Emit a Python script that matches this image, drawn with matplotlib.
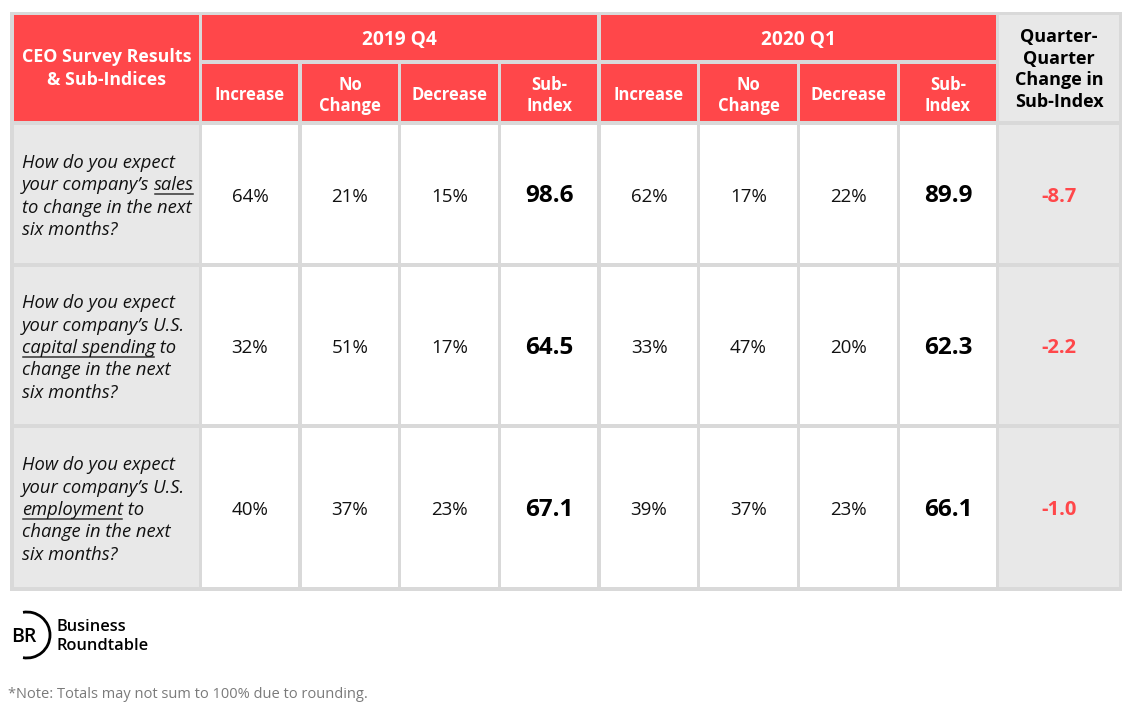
import matplotlib.pyplot as plt
from matplotlib.patches import Rectangle, Arc

plt.rcParams['font.family'] = ['Open Sans', 'DejaVu Sans']

# ---- data ----
title_cell = "CEO Survey Results\n& Sub-Indices"
quarters = ["2019 Q4", "2020 Q1"]
sub_headers = ["Increase", "No\nChange", "Decrease", "Sub-\nIndex"]
change_header = "Quarter-\nQuarter\nChange in\nSub-Index"

# each question: list of lines, each line a list of (text, underlined)
questions = [
    [[("How do you expect", False)],
     [("your company\u2019s ", False), ("sales", True)],
     [("to change in the next", False)],
     [("six months?", False)]],
    [[("How do you expect", False)],
     [("your company\u2019s U.S.", False)],
     [("capital spending", True), (" to", False)],
     [("change in the next", False)],
     [("six months?", False)]],
    [[("How do you expect", False)],
     [("your company\u2019s U.S.", False)],
     [("employment", True), (" to", False)],
     [("change in the next", False)],
     [("six months?", False)]],
]

q4_increase = [64, 32, 40]
q4_nochange = [21, 51, 37]
q4_decrease = [15, 17, 23]
q4_subindex = [98.6, 64.5, 67.1]
q1_increase = [62, 33, 39]
q1_nochange = [17, 47, 37]
q1_decrease = [22, 20, 23]
q1_subindex = [89.9, 62.3, 66.1]
qq_change = [-8.7, -2.2, -1.0]

note = "*Note: Totals may not sum to 100% due to rounding."

# ---- style ----
RED = "#ff474a"
GRID = "#d9d9d9"
LGRAY = "#e8e8e8"

fig = plt.figure(figsize=(11.33, 7.10), dpi=100)
ax = fig.add_axes([0, 0, 1, 1])
ax.set_xlim(0, 1133)
ax.set_ylim(710, 0)
ax.axis('off')

# column edges (px)
cols = [(14, 199), (202, 298), (302, 398), (401, 498), (501, 597),
        (601, 697), (700, 797), (800, 897), (900, 996), (999, 1119)]
h1 = (15, 60)
h2 = (64, 121)
rows = [(125, 263), (267, 424), (428, 587)]
dy = 2.5  # nudge text down a little, open sans sits high


def cell(c0, c1, r0, r1, color):
    ax.add_patch(Rectangle((c0, r0), c1 - c0, r1 - r0, facecolor=color,
                           edgecolor='none'))


# outer grey frame
ax.add_patch(Rectangle((10, 12), 1112, 579, facecolor=GRID, edgecolor='none'))

# header
cell(cols[0][0], cols[0][1], h1[0], h2[1], RED)
ax.text(sum(cols[0]) / 2, 66 + dy, title_cell, ha='center', va='center',
        color='white', fontsize=12.8, fontweight='bold', linespacing=1.3)
for qi, q in enumerate(quarters):
    c0 = cols[1 + 4 * qi][0]
    c1 = cols[4 + 4 * qi][1]
    cell(c0, c1, h1[0], h1[1], RED)
    ax.text((c0 + c1) / 2, 38 + dy, q, ha='center', va='center', color='white',
            fontsize=13.8, fontweight='bold')
    for si, sh in enumerate(sub_headers):
        c = cols[1 + 4 * qi + si]
        cell(c[0], c[1], h2[0], h2[1], RED)
        ax.text(sum(c) / 2, 93 + dy, sh, ha='center', va='center', color='white',
                fontsize=12, fontweight='bold', linespacing=1.16)
cell(cols[9][0], cols[9][1], h1[0], h2[1], LGRAY)
ax.text(sum(cols[9]) / 2, 67 + dy, change_header, ha='center', va='center',
        color='black', fontsize=13, fontweight='bold', linespacing=1.27)

# body
fig.canvas.draw()
renderer = fig.canvas.get_renderer()
inv = ax.transData.inverted()
line_h = 22.4

table_vals = [q4_increase, q4_nochange, q4_decrease, q4_subindex,
              q1_increase, q1_nochange, q1_decrease, q1_subindex]

for ri, (r0, r1) in enumerate(rows):
    yc = (r0 + r1) / 2
    cell(cols[0][0], cols[0][1], r0, r1, LGRAY)
    lines = questions[ri]
    y_first = yc - line_h * (len(lines) - 1) / 2 + dy
    for li, segs in enumerate(lines):
        y = y_first + li * line_h
        x = 22
        for txt, und in segs:
            t = ax.text(x, y, txt, ha='left', va='center', fontsize=13.2,
                        style='italic', color='#111111')
            bb = t.get_window_extent(renderer)
            (bx0, by0), (bx1, by1) = inv.transform([(bb.x0, bb.y0), (bb.x1, bb.y1)])
            if und:
                ax.plot([bx0 + 1, bx1 - 1], [y + 8.5, y + 8.5], color='#333333', lw=1.1)
            x = bx1
    for ci, vals in enumerate(table_vals):
        c = cols[1 + ci]
        cell(c[0], c[1], r0, r1, 'white')
        if ci % 4 == 3:
            ax.text(sum(c) / 2, yc + dy, f"{vals[ri]:.1f}", ha='center', va='center',
                    fontsize=17.5, fontweight='bold', color='black')
        else:
            ax.text(sum(c) / 2, yc + dy, f"{vals[ri]}%", ha='center', va='center',
                    fontsize=13.5, color='#111111')
    cell(cols[9][0], cols[9][1], r0, r1, LGRAY)
    ax.text(sum(cols[9]) / 2, yc + dy, f"{qq_change[ri]:.1f}", ha='center', va='center',
            fontsize=14.5, fontweight='bold', color=RED)

# logo
ax.add_patch(Arc((27, 635), 46, 46, theta1=-100, theta2=100, color='black',
                 lw=2.0))
ax.text(11, 637, "BR", ha='left', va='center', fontsize=14, fontweight='semibold',
        color='black')
ax.text(56, 627, "Business", ha='left', va='center', fontsize=11.8,
        fontweight='semibold', color='black')
ax.text(56, 646, "Roundtable", ha='left', va='center', fontsize=11.8,
        fontweight='semibold', color='black')

ax.text(8, 694, note, ha='left', va='center', fontsize=10.5, color='#7a7a7a')

fig.savefig("out.png", dpi=100)
